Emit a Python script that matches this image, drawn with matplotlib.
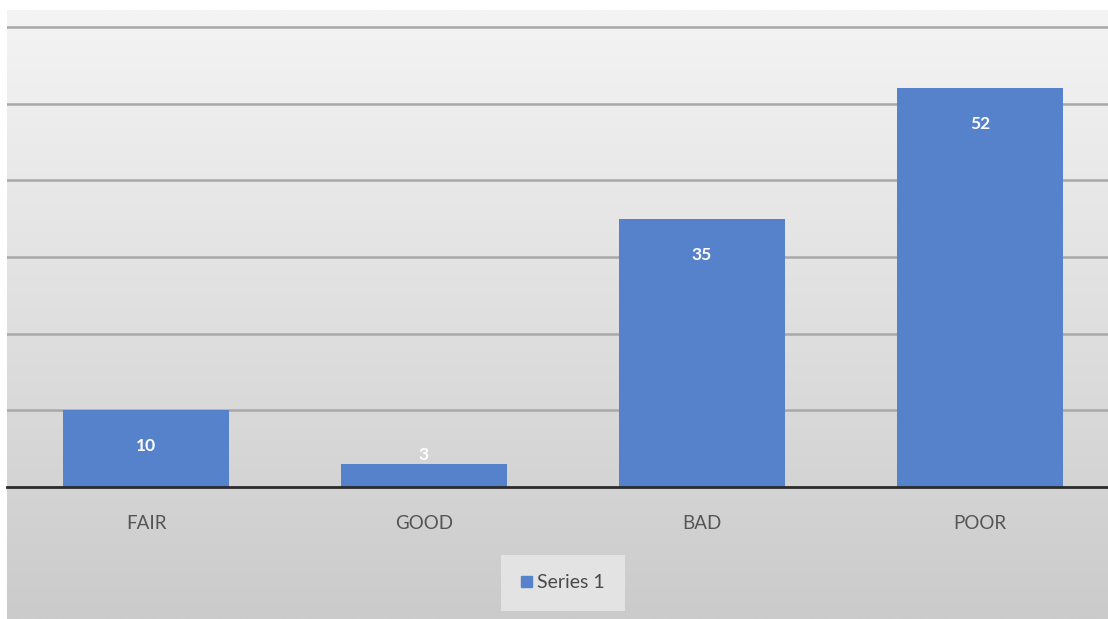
import matplotlib.pyplot as plt
import numpy as np

categories = ['FAIR', 'GOOD', 'BAD', 'POOR']
values = [10, 3, 35, 52]
series_name = 'Series 1'
grid_ticks = [10, 20, 30, 40, 50, 60]

plt.rcParams['font.family'] = ['Lato', 'DejaVu Sans']

W, H = 1108, 619
fig = plt.figure(figsize=(W / 100, H / 100), dpi=100)
fig.patch.set_facecolor('white')

# gradient panel behind the chart
bg = fig.add_axes([7 / W, 0, 1 - 7 / W, 1 - 10 / H], zorder=0)
grad = np.linspace(0, 1, 256).reshape(-1, 1)
bg.imshow(grad, aspect='auto', cmap=plt.matplotlib.colors.LinearSegmentedColormap.from_list(
    'bg', ['#f4f4f4', '#cbcbcb']), extent=[0, 1, 0, 1], origin='upper')
bg.set_axis_off()

ax = fig.add_axes([7 / W, 132 / H, 1 - 7 / W, (487 - 10) / H], zorder=1)
ax.patch.set_alpha(0)
x = np.arange(len(categories))
ax.bar(x, values, width=0.6, color='#5682cb', zorder=3)

ax.set_xlim(-0.5, -0.5 + 1101 / 278)
ax.set_ylim(0, 62.2)
ax.set_yticks(grid_ticks)
ax.yaxis.grid(True, color='#a8a8a8', linewidth=1.8, zorder=1)
ax.tick_params(axis='y', left=False, labelleft=False)
ax.set_xticks(x)
ax.set_xticklabels(categories, fontsize=13.5, color='#555555')
ax.tick_params(axis='x', length=0, pad=20)
for s in ['top', 'right', 'left']:
    ax.spines[s].set_visible(False)
ax.spines['bottom'].set_color('#2b2b2b')
ax.spines['bottom'].set_linewidth(2)
ax.spines['bottom'].set_zorder(4)

for xi, v in zip(x, values):
    y = v - 4.7 if v > 6 else v + 1.2
    ax.text(xi, y, str(v), ha='center', va='center', color='white',
            fontsize=12.5, fontweight='bold', zorder=5)

handle = plt.matplotlib.patches.Patch(color='#5682cb', label=series_name)
leg = fig.legend(handles=[handle], loc='center', bbox_to_anchor=(563 / W, 1 - 583 / H),
                 fontsize=14, frameon=True, fancybox=False, handlelength=0.55,
                 handleheight=0.55, handletextpad=0.3, borderpad=1.0, labelcolor='#4a4a4a')
leg.get_frame().set_facecolor('#e3e3e3')
leg.get_frame().set_edgecolor('none')
leg.get_frame().set_alpha(1)

fig.savefig('out.png', dpi=100)
